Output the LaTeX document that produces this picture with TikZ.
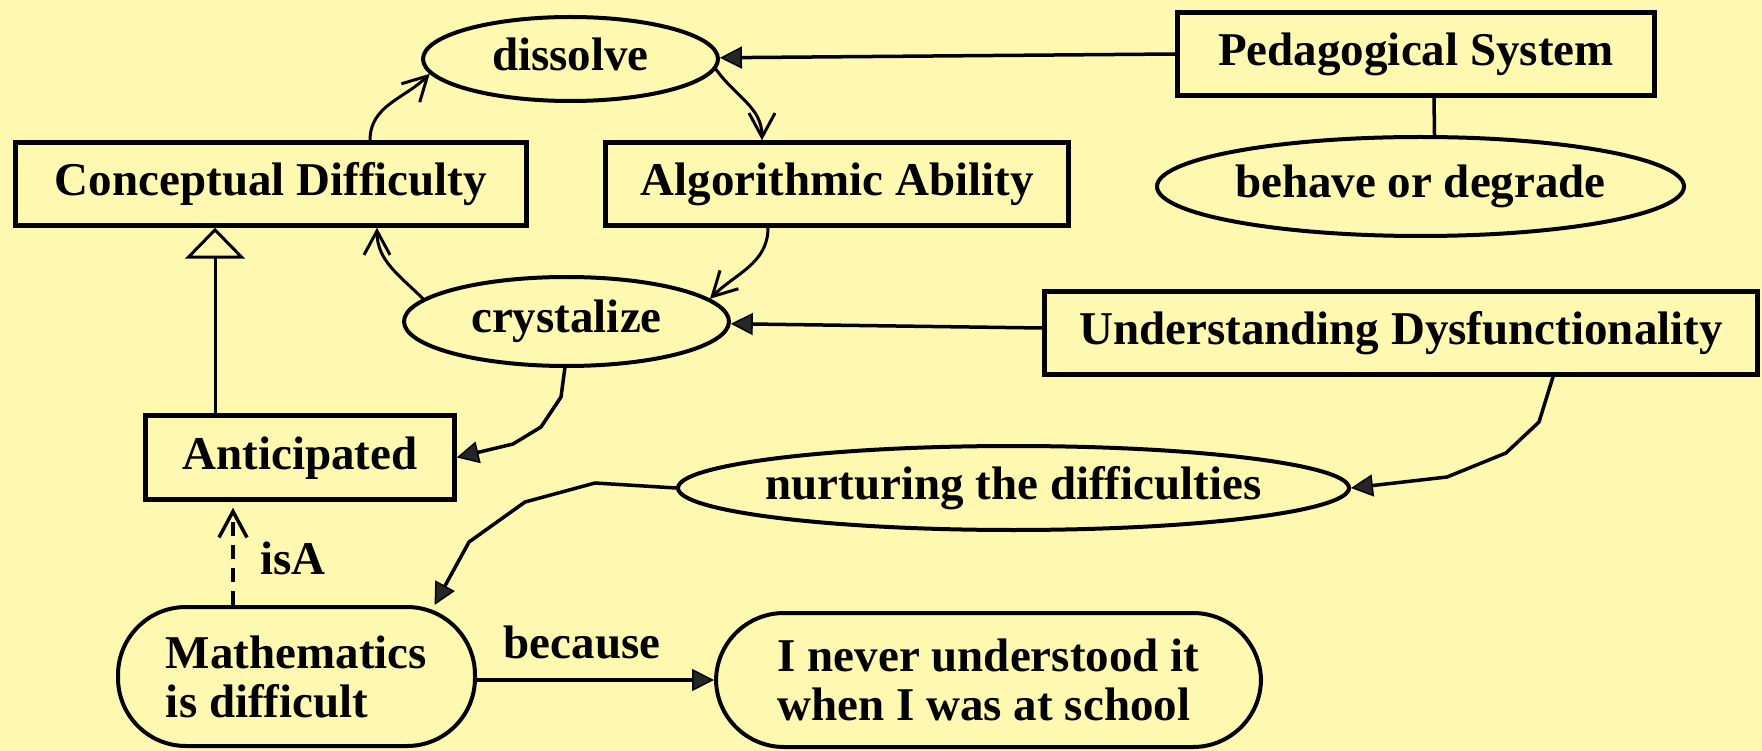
\documentclass[tikz,border=0pt]{standalone}
\usepackage{fontspec}
\setmainfont{Liberation Serif}
\usetikzlibrary{arrows.meta,shapes.geometric}
\definecolor{paper}{RGB}{255,248,176}
\begin{document}
\begin{tikzpicture}[x=1pt,y=-1pt,
  every node/.style={font=\bfseries\fontsize{47}{49}\selectfont},
  box/.style={draw, rectangle, line width=4.5pt, inner sep=0pt, text height=33pt, text depth=10pt},
  oval/.style={draw, ellipse, line width=4pt, inner sep=0pt, text height=33pt, text depth=10pt},
  pill/.style={draw, rectangle, rounded corners=68pt, line width=4pt, inner sep=0pt, align=left},
  tag/.style={inner sep=0pt, text height=33pt, text depth=10pt},
  link/.style={line width=3.5pt},
  flow/.style={line width=3pt, -{Straight Barb[length=24pt,width=26pt]}},
  head/.style={line width=3.5pt, -{Triangle[length=22pt,width=22pt,fill=black!85,line width=1.5pt]}},
  gen/.style={line width=3pt, -{Triangle[open,length=31pt,width=60pt,fill=paper,line width=3pt]}},
  isa/.style={line width=3.5pt, dash pattern=on 14pt off 9pt, -{Straight Barb[length=26pt,width=28pt]}}
]
\fill[paper] (0,0) rectangle (1762,751);
\useasboundingbox (0,0) rectangle (1762,751);

% concepts
\node[box, minimum width=511pt, minimum height=83pt] (cd) at (271,184) {Conceptual Difficulty};
\node[box, minimum width=463pt, minimum height=83pt] (aa) at (837,184) {Algorithmic Ability};
\node[box, minimum width=477pt, minimum height=83pt] (ps) at (1416,54) {Pedagogical System};
\node[box, minimum width=713pt, minimum height=83pt] (ud) at (1401,333) {Understanding Dysfunctionality};
\node[box, minimum width=309pt, minimum height=84pt] (ant) at (300,457.5) {Anticipated};

% processes
\node[oval, minimum width=295pt, minimum height=84pt] (dis) at (570.5,59) {\makebox[0pt]{dissolve}};
\node[oval, minimum width=325pt, minimum height=89pt] (cry) at (566.5,321.5) {\makebox[0pt]{crystalize}};
\node[oval, minimum width=527pt, minimum height=99pt] (bd) at (1420.5,186.5) {\makebox[0pt]{behave or degrade}};
\node[oval, minimum width=671pt, minimum height=84pt] (nur) at (1013.5,488) {\makebox[0pt]{nurturing the difficulties}};

% statements
\node[pill, minimum width=357pt, minimum height=139pt] (math) at (296.5,676.5) {Mathematics\\is difficult};
\node[pill, minimum width=545pt, minimum height=134pt] (never) at (988.5,680) {I never understood it\\when I was at school};

% cycle between the two abilities
\draw[flow] ([xshift=99pt]cd.north) to[out=90,in=225] (dis.186);
\draw[flow] (dis.-4) to[out=-55,in=90] ([xshift=-75pt]aa.north);
\draw[flow] ([xshift=-69pt]aa.south) to[out=-90,in=45] (cry.9);
\draw[flow] (cry.171) to[out=135,in=-90] ([xshift=106pt]cd.south);

% drivers
\draw[head] (ps.west) -- (dis);
\draw[head] ([yshift=5pt]ud.west) -- (cry);
\draw[link] ([xshift=18pt]ps.south) -- ([xshift=14pt]bd.north);

% generalisation
\draw[gen] ([xshift=-85pt]ant.north) -- ([xshift=-56pt]cd.south);

% routed connectors
\draw[head] (cry.268) -- (561,397) -- (541,427) -- (513,444) -- (ant.east);
\draw[head] ([xshift=152pt]ud.south) -- (1539,422) -- (1506,453) -- (1447,477) -- (nur.east);
\draw[head] (nur.west) -- (595,483) -- (525,502) -- (469,542) -- ([xshift=138pt]math.north);

% relations between statements
\draw[isa, shorten >=6pt] ([xshift=-63.5pt]math.north) -- ([xshift=-67pt]ant.south);
\node[tag] (isalbl) at (293,562.5) {isA};
\draw[head] ([yshift=-3.5pt]math.east) -- (never.west);
\node[tag] (because) at (582,646.5) {because};
\end{tikzpicture}
\end{document}
